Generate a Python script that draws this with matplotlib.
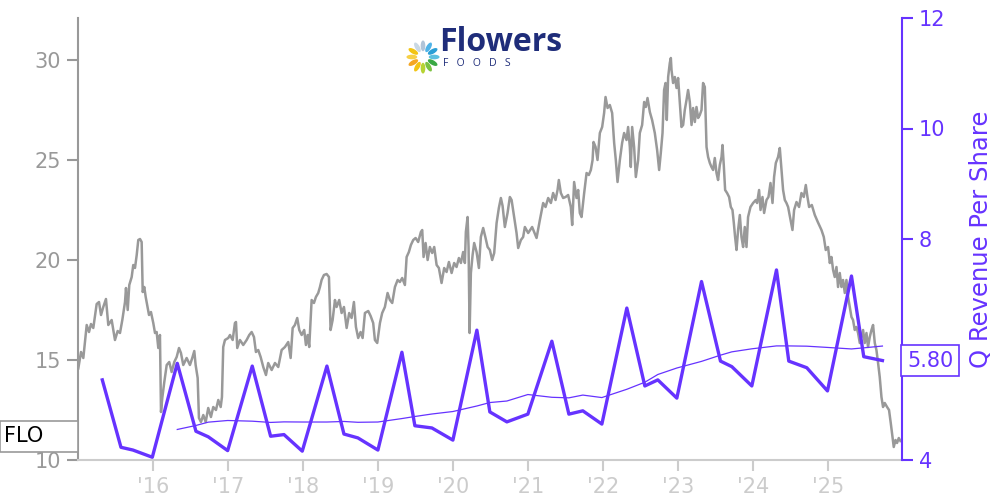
import numpy as np
import pandas as pd
import matplotlib
matplotlib.use("Agg")
import matplotlib.pyplot as plt
from matplotlib.patches import Ellipse, Rectangle
from matplotlib.transforms import blended_transform_factory

# daily close of FLO (decimal year, USD)
price_years = [
    2015.004, 2015.04, 2015.071, 2015.116, 2015.147, 2015.173, 2015.204, 2015.249, 2015.28, 2015.307,
    2015.337, 2015.373, 2015.404, 2015.449, 2015.493, 2015.529, 2015.56, 2015.591, 2015.627, 2015.64,
    2015.663, 2015.684, 2015.716, 2015.737, 2015.76, 2015.783, 2015.804, 2015.827, 2015.849, 2015.863,
    2015.884, 2015.903, 2015.929, 2015.947, 2015.973, 2016.004, 2016.027, 2016.049, 2016.071, 2016.093,
    2016.107, 2016.124, 2016.151, 2016.183, 2016.217, 2016.249, 2016.284, 2016.316, 2016.347, 2016.373,
    2016.404, 2016.449, 2016.493, 2016.524, 2016.551, 2016.569, 2016.596, 2016.613, 2016.64, 2016.671,
    2016.703, 2016.737, 2016.773, 2016.804, 2016.84, 2016.871, 2016.903, 2016.92, 2016.937, 2016.96,
    2017.004, 2017.027, 2017.063, 2017.093, 2017.107, 2017.124, 2017.16, 2017.204, 2017.249, 2017.284,
    2017.316, 2017.347, 2017.373, 2017.404, 2017.436, 2017.471, 2017.507, 2017.537, 2017.583, 2017.627,
    2017.671, 2017.716, 2017.76, 2017.804, 2017.836, 2017.863, 2017.893, 2017.924, 2017.951, 2017.983,
    2018.017, 2018.04, 2018.063, 2018.084, 2018.116, 2018.147, 2018.173, 2018.204, 2018.227, 2018.249,
    2018.28, 2018.316, 2018.347, 2018.369, 2018.396, 2018.427, 2018.449, 2018.484, 2018.516, 2018.547,
    2018.583, 2018.617, 2018.649, 2018.68, 2018.707, 2018.737, 2018.769, 2018.796, 2018.827, 2018.871,
    2018.903, 2018.937, 2018.96, 2018.991, 2019.027, 2019.057, 2019.093, 2019.129, 2019.16, 2019.191,
    2019.227, 2019.263, 2019.293, 2019.324, 2019.36, 2019.383, 2019.413, 2019.44, 2019.471, 2019.503,
    2019.537, 2019.573, 2019.591, 2019.609, 2019.636, 2019.663, 2019.693, 2019.724, 2019.751, 2019.783,
    2019.813, 2019.849, 2019.884, 2019.916, 2019.947, 2019.983, 2020.017, 2020.049, 2020.08, 2020.107,
    2020.137, 2020.16, 2020.173, 2020.196, 2020.209, 2020.223, 2020.24, 2020.263, 2020.284, 2020.316,
    2020.347, 2020.373, 2020.404, 2020.436, 2020.463, 2020.493, 2020.524, 2020.551, 2020.583, 2020.613,
    2020.64, 2020.663, 2020.693, 2020.729, 2020.76, 2020.783, 2020.817, 2020.849, 2020.871, 2020.907,
    2020.937, 2020.96, 2021.004, 2021.057, 2021.116, 2021.16, 2021.204, 2021.236, 2021.271, 2021.307,
    2021.337, 2021.369, 2021.396, 2021.413, 2021.44, 2021.471, 2021.503, 2021.537, 2021.573, 2021.591,
    2021.617, 2021.649, 2021.671, 2021.693, 2021.716, 2021.751, 2021.783, 2021.813, 2021.84, 2021.863,
    2021.876, 2021.903, 2021.929, 2021.96, 2021.991, 2022.017, 2022.036, 2022.063, 2022.093, 2022.124,
    2022.151, 2022.173, 2022.196, 2022.227, 2022.257, 2022.284, 2022.316, 2022.337, 2022.36, 2022.373,
    2022.391, 2022.417, 2022.44, 2022.471, 2022.493, 2022.524, 2022.551, 2022.573, 2022.596, 2022.627,
    2022.657, 2022.693, 2022.724, 2022.751, 2022.773, 2022.796, 2022.817, 2022.836, 2022.853, 2022.871,
    2022.893, 2022.907, 2022.916, 2022.937, 2022.96, 2022.983, 2023.004, 2023.027, 2023.049, 2023.071,
    2023.093, 2023.116, 2023.137, 2023.16, 2023.183, 2023.204, 2023.227, 2023.249, 2023.271, 2023.293,
    2023.316, 2023.337, 2023.36, 2023.383, 2023.404, 2023.427, 2023.449, 2023.471, 2023.493, 2023.516,
    2023.537, 2023.56, 2023.583, 2023.596, 2023.613, 2023.631, 2023.657, 2023.684, 2023.707, 2023.729,
    2023.747, 2023.764, 2023.783, 2023.804, 2023.827, 2023.849, 2023.871, 2023.893, 2023.916, 2023.937,
    2023.969, 2024.004, 2024.04, 2024.057, 2024.084, 2024.103, 2024.129, 2024.151, 2024.183, 2024.209,
    2024.236, 2024.263, 2024.284, 2024.307, 2024.337, 2024.36, 2024.383, 2024.404, 2024.427, 2024.449,
    2024.471, 2024.503, 2024.529, 2024.551, 2024.583, 2024.617, 2024.649, 2024.68, 2024.707, 2024.729,
    2024.751, 2024.787, 2024.827, 2024.867, 2024.916, 2024.947, 2024.973, 2025.004, 2025.027, 2025.049,
    2025.071, 2025.093, 2025.116, 2025.137, 2025.16, 2025.183, 2025.204, 2025.227, 2025.249, 2025.271,
    2025.293, 2025.316, 2025.337, 2025.36, 2025.383, 2025.404, 2025.427, 2025.449, 2025.471, 2025.493,
    2025.516, 2025.537, 2025.56, 2025.583, 2025.604, 2025.627, 2025.649, 2025.671, 2025.693, 2025.716,
    2025.737, 2025.76, 2025.791, 2025.817, 2025.84, 2025.863, 2025.88, 2025.903, 2025.924, 2025.947,
    2025.969,
]
price_values = [
    14.58, 15.4, 15.1, 16.75, 16.4, 16.8, 16.6, 17.8, 17.9, 17.25,
    17.65, 18.05, 16.75, 17.0, 16.0, 16.45, 16.35, 17.0, 17.9, 18.6,
    17.5, 18.75, 19.15, 19.75, 19.6, 20.25, 21.0, 21.05, 20.9, 18.4,
    18.65, 18.15, 17.6, 17.25, 17.4, 16.85, 16.35, 16.4, 15.6, 16.25,
    12.4, 13.1, 13.9, 14.75, 14.9, 14.4, 14.9, 15.15, 15.6, 15.35,
    14.75, 15.1, 14.75, 15.1, 15.45, 14.75, 14.1, 12.1, 11.9, 12.25,
    11.9, 12.6, 12.15, 12.65, 12.5, 13.0, 12.65, 13.15, 15.65, 16.0,
    16.1, 16.25, 16.0, 16.85, 16.9, 15.6, 16.0, 15.75, 16.0, 16.25,
    16.4, 16.15, 15.4, 15.5, 15.15, 14.65, 14.25, 14.85, 14.5, 14.85,
    14.65, 15.5, 15.65, 15.9, 15.1, 16.6, 16.75, 17.1, 16.5, 16.25,
    16.5, 15.75, 16.25, 15.65, 18.0, 17.85, 18.15, 18.35, 18.65, 19.0,
    19.25, 19.3, 19.15, 16.5, 17.0, 18.0, 17.65, 18.0, 17.35, 17.65,
    16.6, 17.35, 17.1, 17.9, 16.65, 16.1, 16.4, 16.1, 17.35, 17.45,
    17.2, 16.85, 16.0, 15.85, 16.85, 17.35, 17.65, 18.35, 18.0, 17.85,
    18.65, 19.0, 18.9, 19.1, 18.75, 20.15, 20.4, 20.75, 21.0, 21.1,
    20.9, 21.4, 21.5, 20.15, 20.85, 20.0, 20.65, 20.35, 20.65, 19.75,
    19.6, 18.85, 19.6, 19.4, 19.9, 19.35, 19.85, 19.65, 20.1, 19.85,
    20.4, 19.85, 21.4, 22.15, 20.65, 16.35, 19.35, 20.25, 20.85, 20.4,
    19.6, 21.15, 21.6, 21.1, 20.65, 20.5, 20.0, 20.35, 21.85, 22.6,
    23.1, 22.7, 21.65, 22.35, 23.15, 23.0, 22.15, 21.35, 20.6, 21.0,
    21.15, 21.65, 21.35, 21.65, 21.1, 22.0, 22.85, 22.65, 23.1, 22.85,
    23.35, 23.0, 23.5, 24.0, 23.35, 23.1, 23.15, 23.25, 22.65, 21.75,
    23.9, 23.1, 23.5, 22.35, 22.15, 23.35, 24.35, 24.25, 24.5, 25.0,
    25.9, 25.65, 25.0, 26.35, 26.65, 27.35, 28.15, 27.6, 27.75, 27.35,
    25.85, 25.0, 23.9, 25.0, 25.85, 26.35, 26.0, 26.65, 25.65, 24.65,
    26.65, 25.65, 24.15, 25.0, 26.35, 26.75, 27.9, 27.65, 28.1, 27.4,
    27.0, 26.35, 25.5, 24.5, 25.35, 26.35, 28.5, 28.85, 27.0, 29.15,
    29.85, 30.1, 29.5, 28.85, 29.15, 28.6, 29.1, 27.85, 26.65, 26.75,
    27.5, 28.0, 28.5, 27.9, 26.75, 27.6, 26.9, 27.65, 27.1, 27.25,
    27.5, 28.85, 28.65, 25.65, 25.15, 24.85, 24.65, 24.5, 25.1, 24.35,
    24.0, 24.75, 25.15, 25.75, 24.75, 23.5, 23.35, 23.15, 22.65, 22.5,
    21.85, 21.15, 20.5, 21.5, 22.25, 21.15, 20.65, 21.65, 20.65, 22.15,
    22.65, 22.85, 23.0, 22.85, 23.5, 22.5, 23.15, 22.35, 23.0, 23.15,
    23.85, 22.85, 24.15, 24.85, 25.15, 25.6, 24.5, 23.5, 23.0, 22.85,
    22.65, 22.0, 21.5, 22.5, 22.9, 22.65, 23.35, 23.15, 23.75, 23.15,
    22.65, 22.75, 22.25, 21.9, 21.5, 21.15, 20.5, 20.65, 19.85, 20.15,
    19.5, 19.15, 19.65, 18.65, 19.35, 18.65, 19.0, 18.35, 19.0, 18.15,
    17.65, 17.15, 17.0, 16.5, 16.65, 16.35, 15.85, 16.15, 16.5, 15.85,
    16.35, 15.65, 16.15, 16.5, 16.75, 15.85, 15.5, 14.85, 14.15, 13.15,
    12.65, 12.85, 12.65, 12.5, 11.85, 11.15, 10.65, 11.0, 10.85, 11.1,
    10.95,
]

# quarterly revenue per share (decimal year of report, USD)
rev_years = [
    2015.324, 2015.573, 2015.733, 2015.991, 2016.324, 2016.573, 2016.737, 2016.996,
    2017.324, 2017.569, 2017.747, 2017.991, 2018.32, 2018.547, 2018.733, 2019.0,
    2019.32, 2019.493, 2019.72, 2020.0, 2020.32, 2020.493, 2020.72, 2021.0,
    2021.32, 2021.547, 2021.733, 2021.987, 2022.32, 2022.56, 2022.733, 2022.987,
    2023.316, 2023.569, 2023.72, 2023.987, 2024.316, 2024.48, 2024.72, 2024.996,
    2025.316, 2025.48, 2025.729,
]
rev_values = [
    5.45, 4.23, 4.18, 4.05, 5.75, 4.52, 4.42, 4.17,
    5.70, 4.43, 4.46, 4.16, 5.70, 4.47, 4.40, 4.18,
    5.95, 4.62, 4.58, 4.36, 6.35, 4.87, 4.69, 4.83,
    6.15, 4.83, 4.89, 4.65, 6.75, 5.34, 5.45, 5.12,
    7.23, 5.79, 5.69, 5.34, 7.44, 5.79, 5.67, 5.25,
    7.33, 5.87, 5.80,
]

year_ticks = list(range(2016, 2026))
year_labels = ["'16", "'17", "'18", "'19", "'20", "'21", "'22", "'23", "'24", "'25"]

GRAY = "#999999"
LIGHT = "#cccccc"
PURPLE = "#6633ff"
NAVY = "#1f2d7a"

rev = pd.Series(rev_values, index=rev_years)
rev_ma = rev.rolling(4).mean().iloc[4:]

fig = plt.figure(figsize=(10, 5), dpi=100)
ax = fig.add_axes([0.078, 0.08, 0.824, 0.884])
ax2 = ax.twinx()

ax.plot(price_years, price_values, color=GRAY, lw=1.8)
ax2.plot(rev.index, rev.values, color=PURPLE, lw=2.4)
ax2.plot(rev_ma.index, rev_ma.values, color=PURPLE, lw=0.9)

ax.set_xlim(2015.0, 2025.99)
ax.set_ylim(10, 32.1)
ax2.set_ylim(4, 12)

ax.set_xticks(year_ticks)
ax.set_xticklabels(year_labels)
ax.set_yticks([10, 15, 20, 25, 30])
ax2.set_yticks([4, 6, 8, 10, 12])

for a in (ax, ax2):
    a.spines["top"].set_visible(False)
ax.spines["right"].set_visible(False)
ax2.spines["left"].set_visible(False)
ax2.spines["bottom"].set_visible(False)
ax.spines["left"].set_color(GRAY)
ax.spines["left"].set_linewidth(1.5)
ax.spines["bottom"].set_color(LIGHT)
ax.spines["bottom"].set_linewidth(1.5)
ax2.spines["right"].set_color(PURPLE)
ax2.spines["right"].set_linewidth(1.5)

ax.tick_params(axis="x", colors=LIGHT, labelsize=15, length=8, width=1.5, pad=4)
ax.tick_params(axis="y", colors=GRAY, labelsize=15, length=8, width=1.5, pad=4)
ax2.tick_params(axis="y", colors=PURPLE, labelsize=15, length=8, width=1.5, pad=4)
ax2.set_ylabel("Q Revenue Per Share", color=PURPLE, fontsize=17.5, labelpad=17)

# last-value tags
tr_left = blended_transform_factory(fig.transFigure, ax.transData)
fig.patches.append(Rectangle((0.0, 10.42), 0.078, 1.55, transform=tr_left,
                             fc="white", ec=GRAY, lw=1.2, zorder=5))
fig.text(0.004, 11.2, "FLO", transform=tr_left, fontsize=15, color="black",
         va="center", ha="left", zorder=6)

tr_right = blended_transform_factory(ax2.transAxes, ax2.transData)
ax2.text(1.006, rev_values[-1], f"{rev_values[-1]:.2f}", transform=tr_right,
         color=PURPLE, fontsize=15, va="center", ha="left", clip_on=False, zorder=10,
         bbox=dict(boxstyle="square,pad=0.28", fc="white", ec=PURPLE, lw=1.2))
# the tag sits over the "6" tick label, as in the original
ax2.get_yticklabels()[1].set_visible(False)

# logo
logo = fig.add_axes([0.405, 0.85, 0.036, 0.072])
logo.set_xlim(-1, 1)
logo.set_ylim(-1, 1)
logo.axis("off")
petal_colors = ["#b0c4d8", "#4fb3e8", "#2a9fd6", "#5cc0e0", "#3aa844", "#7cc242",
                "#b6d334", "#f2c414", "#f5a623", "#f7d046", "#f2c414", "#c9d8e4"]
for i, c in enumerate(petal_colors):
    ang = np.pi / 2 - i * 2 * np.pi / len(petal_colors)
    logo.add_patch(Ellipse((0.62 * np.cos(ang), 0.62 * np.sin(ang)), 0.26, 0.6,
                           angle=np.degrees(ang) - 90, color=c, lw=0))
fig.text(0.439, 0.898, "Flowers", fontsize=23, fontweight="bold", color=NAVY,
         family="Open Sans", va="baseline", ha="left")
fig.text(0.443, 0.872, "F   O   O   D   S", fontsize=7.5, color=NAVY,
         family="Open Sans", va="center", ha="left")

fig.savefig("out.png", dpi=100)
